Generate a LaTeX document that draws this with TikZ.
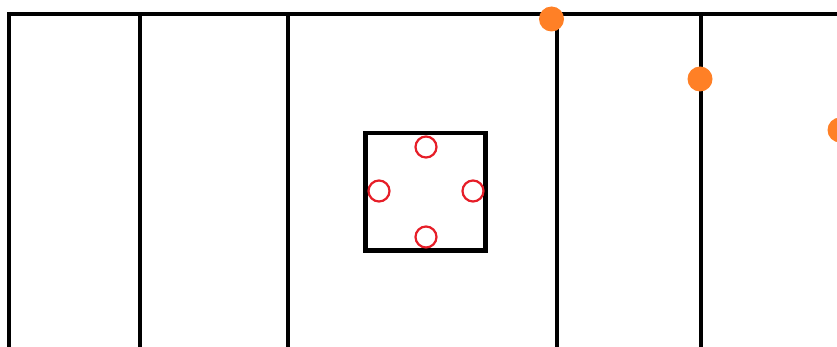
\documentclass[tikz,border=0pt]{standalone}
\definecolor{dotorange}{RGB}{255,128,38}
\definecolor{ringred}{RGB}{230,30,40}
\begin{document}
\begin{tikzpicture}[x=1pt,y=-1pt,
  wall/.style={line width=4pt,black},
  boxline/.style={line width=4.4pt,black},
  ring/.style={circle,draw=ringred,line width=2.2pt,minimum size=21pt,inner sep=0pt},
  blob/.style={circle,fill=dotorange,minimum size=25pt,inner sep=0pt}]
\useasboundingbox (0,0) rectangle (837,347);
% top line
\draw[wall] (7,14) -- (837,14);
% vertical lines
\draw[wall] (9,12) -- (9,347);
\draw[wall] (139.5,14) -- (139.5,347);
\draw[wall] (288,14) -- (288,347);
\draw[wall] (557,14) -- (557,347);
\draw[wall] (701,14) -- (701,347);
% box
\draw[boxline] (365.5,133) rectangle (485.5,250.5);
\node[ring] (rt) at (426,147) {};
\node[ring] (rl) at (379,191) {};
\node[ring] (rr) at (473,191) {};
\node[ring] (rb) at (426,237) {};
% orange dots
\node[blob] (d1) at (551.5,19) {};
\node[blob] (d2) at (700,79) {};
\node[blob] (d3) at (840,130) {};
\end{tikzpicture}
\end{document}
